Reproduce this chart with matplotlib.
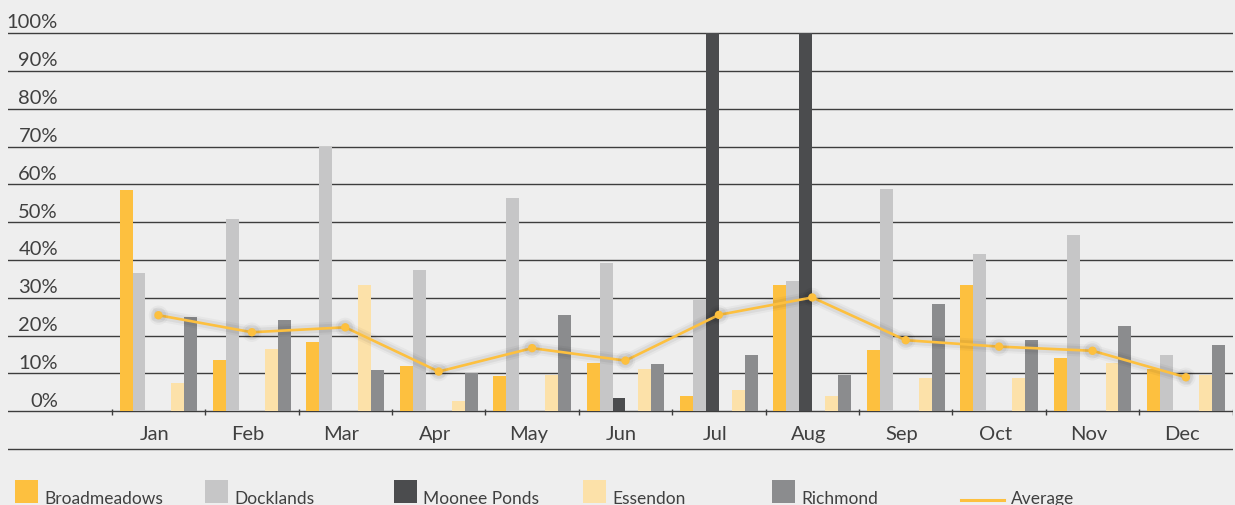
import numpy as np
import matplotlib.pyplot as plt
import matplotlib.patheffects as pe
from matplotlib.patches import Rectangle
from matplotlib.lines import Line2D

plt.rcParams['font.family'] = ['Lato', 'DejaVu Sans']

months = ['Jan', 'Feb', 'Mar', 'Apr', 'May', 'Jun',
          'Jul', 'Aug', 'Sep', 'Oct', 'Nov', 'Dec']

broadmeadows = [58.5, 13.6, 18.3, 12.0, 9.3, 12.8, 4.0, 33.4, 16.2, 33.4, 14.1, 11.2]
docklands = [36.5, 50.8, 69.9, 37.3, 56.4, 39.2, 29.4, 34.4, 58.8, 41.6, 46.6, 14.9]
moonee_ponds = [0, 0, 0, 0, 0, 3.5, 100, 100, 0, 0, 0, 0]
essendon = [7.4, 16.5, 33.4, 2.7, 9.6, 11.2, 5.6, 4.0, 8.8, 8.8, 12.8, 9.6]
richmond = [24.9, 24.1, 10.9, 10.1, 25.5, 12.5, 14.9, 9.6, 28.4, 18.8, 22.5, 17.5]
average = [25.4, 20.9, 22.2, 10.5, 16.7, 13.4, 25.5, 30.1, 18.8, 17.1, 16.0, 9.0]

series = [
    ('Broadmeadows', broadmeadows, '#FDC03F', 0),
    ('Docklands', docklands, '#C6C6C7', 1),
    ('Moonee Ponds', moonee_ponds, '#4B4C4E', 2),
    ('Essendon', essendon, '#FCE1A9', 4),
    ('Richmond', richmond, '#8B8C8E', 5),
]
avg_color = '#FDC03F'
text_color = '#404040'
bg = '#EEEEEE'

W, H = 1235, 506
fig = plt.figure(figsize=(W / 100, H / 100), dpi=100, facecolor=bg)
ax = fig.add_axes([8 / W, 0, 1225 / W, 1])
ax.set_facecolor(bg)

x = np.arange(len(months))
bar_w = 0.139

for name, vals, color, slot in series:
    ax.bar(x + (slot - 2.5) * bar_w, vals, width=bar_w, color=color,
           zorder=2, linewidth=0)

glow = [pe.Stroke(linewidth=9, foreground='#000000', alpha=0.03),
        pe.Stroke(linewidth=6, foreground='#000000', alpha=0.05),
        pe.Normal()]
ax.plot(x, average, color=avg_color, lw=1.9, marker='o', ms=5,
        zorder=4, path_effects=glow)

ax.set_xlim(-1.611, 11.504)
ax.set_ylim(-24.77, 109.0)

# horizontal grid and bottom rule
for v in range(0, 101, 10):
    ax.axhline(v, color='#3d3d3d', lw=1.0, zorder=1)
ax.axhline(-10, color='#3d3d3d', lw=1.0, zorder=1)

ytr = ax.get_yaxis_transform()
for v in range(0, 101, 10):
    ax.text(0.0408, v + 1.5, f'{v}%', transform=ytr, ha='right',
            va='baseline', fontsize=14.5, color=text_color)

# month labels and boundary ticks
for i, m in enumerate(months):
    ax.text(i - 0.04, -7.3, m, ha='center', va='baseline',
            fontsize=14.5, color=text_color)
bounds = np.arange(len(months) + 1) - 0.5
ax.vlines(bounds, -0.9, 0.6, color='#3d3d3d', lw=1.0, zorder=1)

ax.set_xticks([])
ax.set_yticks([])
for s in ax.spines.values():
    s.set_visible(False)

# legend row
legend_x = [15, 205, 394, 583, 772]
for (name, vals, color, slot), lx in zip(series, legend_x):
    fig.add_artist(Rectangle((lx / W, 1 - 504 / H), 23 / W, 23 / H,
                             transform=fig.transFigure, color=color, lw=0))
    fig.text((lx + 29) / W, 1 - 504 / H, name, ha='left', va='baseline',
             fontsize=12.5, color=text_color)
fig.add_artist(Line2D([961 / W, 1004 / W], [1 - 501 / H, 1 - 501 / H],
                      transform=fig.transFigure, color=avg_color, lw=2.2))
fig.text(1011 / W, 1 - 504 / H, 'Average', ha='left', va='baseline',
         fontsize=12.5, color=text_color)

fig.savefig('out.png', dpi=100, facecolor=bg)
